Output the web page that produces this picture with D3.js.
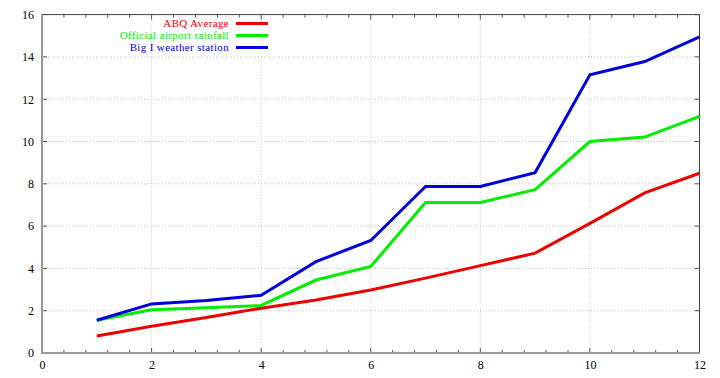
<!DOCTYPE html>
<html><head><meta charset="utf-8">
<script src="https://cdn.jsdelivr.net/npm/d3@7"></script>
<style>body{margin:0;background:#fff}svg{display:block}text{font-family:"Liberation Serif","DejaVu Serif",serif}</style>
</head><body><svg id="c" width="720" height="378"></svg>
<script>
const months = [1,2,3,4,5,6,7,8,9,10,11,12];
const abqAverage = [0.80,1.26,1.68,2.12,2.51,2.98,3.54,4.13,4.72,6.13,7.57,8.50];
const officialAirport = [1.55,2.04,2.14,2.25,3.45,4.09,7.12,7.12,7.72,10.00,10.21,11.19];
const bigIStation = [1.55,2.32,2.48,2.73,4.32,5.32,7.87,7.87,8.53,13.15,13.78,14.95];
const seriesNames = ["ABQ Average","Official airport rainfall","Big I weather station"];
const seriesColors = ["#ee0000","#00ee00","#0000dd"];
const xTicks = [0,2,4,6,8,10,12];
const yTicks = [0,2,4,6,8,10,12,14,16];

const svg = d3.select("#c");
const L=42, R=699.5, T=14.6, B=353;
const x = d3.scaleLinear().domain([0,12]).range([L,R]);
const y = d3.scaleLinear().domain([0,16]).range([B,T]);

// grid
const g = svg.append("g");
g.selectAll(".gx").data(xTicks.slice(1,-1)).join("line")
 .attr("x1",d=>x(d)).attr("x2",d=>x(d)).attr("y1",T).attr("y2",B)
 .attr("stroke","#c4c4c4").attr("stroke-width",1).attr("stroke-dasharray","1,2");
g.selectAll(".gy").data(yTicks.slice(1,-1)).join("line")
 .attr("y1",d=>y(d)).attr("y2",d=>y(d)).attr("x1",L).attr("x2",R)
 .attr("stroke","#c4c4c4").attr("stroke-width",1).attr("stroke-dasharray","1,2");

// ticks
const minorX = d3.range(0,12.001,0.4).map(v=>+v.toFixed(2));
const tk = svg.append("g").attr("stroke","#555").attr("stroke-width",1);
minorX.forEach(v=>{
  const major = xTicks.includes(v);
  const len = major?5:3;
  tk.append("line").attr("x1",x(v)).attr("x2",x(v)).attr("y1",B).attr("y2",B-len);
  tk.append("line").attr("x1",x(v)).attr("x2",x(v)).attr("y1",T).attr("y2",T+len);
});
yTicks.forEach(v=>{
  tk.append("line").attr("y1",y(v)).attr("y2",y(v)).attr("x1",L).attr("x2",L+5);
  tk.append("line").attr("y1",y(v)).attr("y2",y(v)).attr("x1",R).attr("x2",R-5);
});

// border
svg.append("line").attr("x1",L).attr("x2",R).attr("y1",T).attr("y2",T).attr("stroke","#444").attr("stroke-width",1);
svg.append("line").attr("x1",R).attr("x2",R).attr("y1",T).attr("y2",B).attr("stroke","#444").attr("stroke-width",1);
svg.append("line").attr("x1",L).attr("x2",L).attr("y1",T).attr("y2",B+1).attr("stroke","#999").attr("stroke-width",2);
svg.append("line").attr("x1",L-1).attr("x2",R).attr("y1",B).attr("y2",B).attr("stroke","#999").attr("stroke-width",2);

// axis labels
const ax = svg.append("g").attr("transform",`translate(0,${B})`)
 .call(d3.axisBottom(x).tickValues(xTicks).tickSize(0).tickPadding(7).tickFormat(d3.format("d")));
ax.select(".domain").remove();
const ay = svg.append("g").attr("transform",`translate(${L},0)`)
 .call(d3.axisLeft(y).tickValues(yTicks).tickSize(0).tickPadding(8).tickFormat(d3.format("d")));
ay.select(".domain").remove();
svg.selectAll(".tick text").style("font-family","'Liberation Serif', serif").style("font-size","12px").attr("fill","#000");

// lines
const data = [abqAverage, officialAirport, bigIStation];
const line = d3.line().x((d,i)=>x(months[i])).y(d=>y(d));
data.forEach((s,i)=>{
  svg.append("path").attr("d",line(s)).attr("fill","none")
   .attr("stroke",seriesColors[i]).attr("stroke-width",3).attr("stroke-linejoin","miter");
});

// legend
seriesNames.forEach((n,i)=>{
  const yy = 23.5 + i*12;
  svg.append("text").attr("x",229).attr("y",yy+3.7).attr("text-anchor","end")
   .style("font-size","11px").style("letter-spacing","0.35px").attr("fill",seriesColors[i]).text(n);
  svg.append("line").attr("x1",236).attr("x2",268).attr("y1",yy).attr("y2",yy)
   .attr("stroke",seriesColors[i]).attr("stroke-width",3);
});
</script></body></html>
